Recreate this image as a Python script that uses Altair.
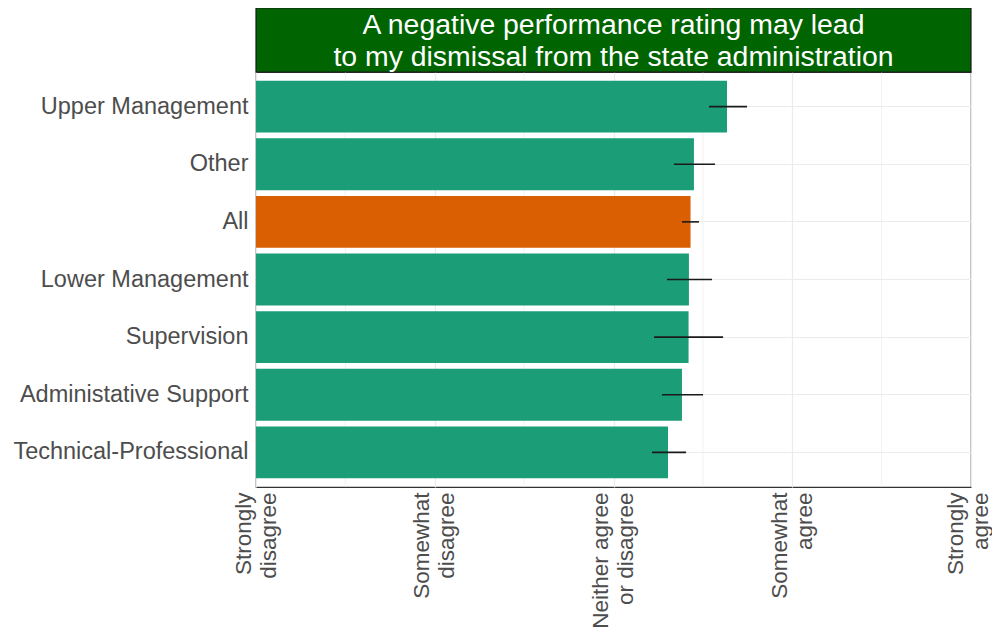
import altair as alt
import pandas as pd

categories = ["Upper Management", "Other", "All", "Lower Management",
              "Supervision", "Administative Support", "Technical-Professional"]
means = [3.635, 3.450, 3.431, 3.422, 3.420, 3.383, 3.305]
ci_low = [3.534, 3.338, 3.383, 3.299, 3.227, 3.271, 3.215]
ci_high = [3.747, 3.568, 3.478, 3.551, 3.613, 3.501, 3.406]
groups = ["Group", "Group", "All", "Group", "Group", "Group", "Group"]

tick_values = [1, 2, 3, 4, 5]
tick_labels = [["Strongly", "disagree"], ["Somewhat", "disagree"],
               ["Neither agree", "or disagree"], ["Somewhat", "agree"],
               ["Strongly", "agree"]]
minor_breaks = [1.5, 2.5, 3.5, 4.5]

title_text = "A negative performance rating may lead\nto my dismissal from the state administration"

df = pd.DataFrame({
    "cat": categories, "mean": means, "lo": ci_low, "hi": ci_high,
    "group": groups, "base": [1] * len(categories)
})
minor_df = pd.DataFrame({"m": minor_breaks})
strip_df = pd.DataFrame({"t": [title_text]})

expr = ""
for v, lab in zip(tick_values, tick_labels):
    arr = "[" + ",".join("'" + s + "'" for s in lab) + "]"
    expr += f"datum.value == {v} ? {arr} : "
expr += "''"

FONT = "Liberation Sans"
GRID = "#EBEBEB"
LABEL = "#4D4D4D"

xscale = alt.Scale(domain=[1, 5], nice=False, zero=False)
xaxis = alt.Axis(values=tick_values, labelExpr=expr, labelAngle=270,
                 labelFontSize=22.5, labelColor=LABEL, labelLineHeight=25,
                 labelPadding=5,
                 labelOffset={"condition": {"test": "datum.value == 5", "value": -15.5},
                              "value": -13},
                 ticks=False, domain=False,
                 grid=True, gridColor=GRID, gridWidth=1.2, title=None,
                 labelOverlap=False, labelFlush=False, labelAlign="right",
                 labelBaseline="middle")
yenc = alt.Y("cat:N", sort=categories,
             scale=alt.Scale(paddingInner=0.1, paddingOuter=0.15),
             axis=alt.Axis(title=None, labelFontSize=23.5, labelColor=LABEL,
                           ticks=False, domain=False, labelPadding=8,
                           grid=True, gridColor=GRID, gridWidth=1.2,
                           bandPosition=0.5, labelLimit=400))

minor = alt.Chart(minor_df).mark_rule(color=GRID, strokeWidth=0.7).encode(
    x=alt.X("m:Q", scale=xscale, axis=xaxis))

bars = alt.Chart(df).mark_bar().encode(
    x=alt.X("mean:Q", scale=xscale, axis=xaxis),
    x2="base:Q",
    y=yenc,
    color=alt.Color("group:N",
                    scale=alt.Scale(domain=["Group", "All"],
                                    range=["#1B9E77", "#D95F02"]),
                    legend=None))

err = alt.Chart(df).mark_rule(color="#1a1a1a", strokeWidth=1.6).encode(
    x="lo:Q", x2="hi:Q", y=yenc)

# facet-style strip above the panel
strip_bg = alt.Chart(strip_df).mark_rect(
    fill="#006400", stroke="#1a1a1a", strokeWidth=1.2
).encode(x=alt.value(0), x2=alt.value("width"),
         y=alt.value(-64), y2=alt.value(0))

strip_txt = alt.Chart(strip_df).mark_text(
    lineBreak="\n", fontSize=28.4, color="white", lineHeight=32, font=FONT,
    baseline="middle", align="center"
).encode(text="t:N", x=alt.value(357.5), y=alt.value(-47))

chart = alt.layer(minor, bars, err, strip_bg, strip_txt).properties(
    width=715, height=415,
    autosize=alt.AutoSizeParams(type="none"),
    padding={"left": 248, "top": 64, "right": 21, "bottom": 142}
).configure(font=FONT).configure_view(stroke="#333333", strokeWidth=1.2)

chart.save("out.html", embed_options={"renderer": "svg", "actions": False})
